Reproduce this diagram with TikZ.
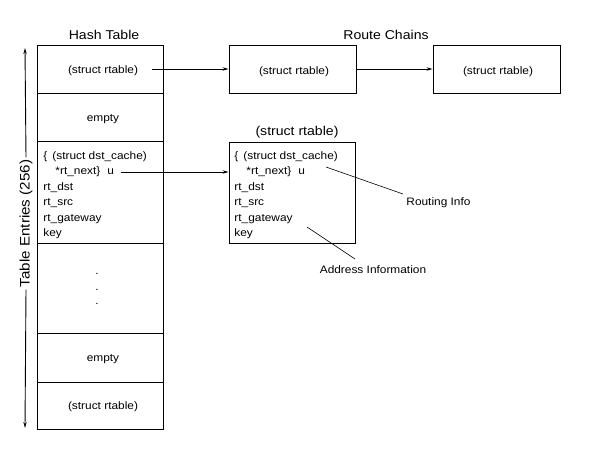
\documentclass[tikz,border=0pt]{standalone}
\usepackage{fontspec}
\setmainfont[FakeStretch=1.1]{Liberation Sans}
\usetikzlibrary{arrows.meta}
\begin{document}
\begin{tikzpicture}[x=1pt,y=-1pt,
  line width=0.9pt,
  cell/.style={draw,inner sep=0pt,minimum width=126pt},
  txt/.style={inner sep=0pt,font=\fontsize{10.8}{13}\selectfont},
  ln/.style={inner sep=0pt,anchor=base west,font=\fontsize{10.8}{13}\selectfont},
  ttl/.style={inner sep=0pt,font=\fontsize{12.8}{15}\selectfont},
  arr/.style={-{Stealth[length=6pt,width=3.4pt,inset=2pt]}},
  thin/.style={line width=0.6pt}]
\useasboundingbox (0,0) rectangle (599,448);

% Hash table
\node[cell,minimum height=48pt]  (r1) at (100,69) {};
\node[cell,minimum height=48pt]  (r2) at (100,117) {};
\node[cell,minimum height=102pt] (r3) at (100,192) {};
\node[cell,minimum height=90pt]  (r4) at (100,288) {};
\node[cell,minimum height=49pt]  (r5) at (100,357.5) {};
\node[cell,minimum height=47pt]  (r6) at (100,405.5) {};

\node[ttl] (ht) at (104,35) {Hash Table};
\node[txt] (r1t) at (103,71) {(struct rtable)};
\node[txt] (r2t) at (103,119) {empty};
\node[txt] (r5t) at (103,359) {empty};
\node[txt] (r6t) at (103,407) {(struct rtable)};
\node[txt,anchor=base] (d1) at (97,274) {.};
\node[txt,anchor=base] (d2) at (97,290) {.};
\node[txt,anchor=base] (d3) at (97,304) {.};

\node[ln] (h1) at (43,159) {\{\hspace{5pt}(struct dst\_cache)};
\node[ln] (h2) at (55,174.5) {*rt\_next\}\hspace{7pt}u};
\node[ln] (h3) at (43,190) {rt\_dst};
\node[ln] (h4) at (43,205.5) {rt\_src};
\node[ln] (h5) at (43,221) {rt\_gateway};
\node[ln] (h6) at (43,236.5) {key};

% vertical label with arrows
\node[inner sep=2pt,rotate=90,font=\fontsize{13.8}{16}\selectfont] (te) at (26,223.5) {Table Entries (256)};
\coordinate (tetop) at (25,48);
\coordinate (tebot) at (25,428);
\draw[arr] (te.east) -- (tetop);
\draw[arr] (te.west) -- (tebot);

% Route chains
\node[ttl] (rc) at (386,35) {Route Chains};
\node[cell,minimum width=127pt,minimum height=48pt] (c1) at (292.5,69) {};
\node[cell,minimum width=127pt,minimum height=48pt] (c2) at (496.5,69) {};
\node[txt] (c1t) at (294,72) {(struct rtable)};
\node[txt] (c2t) at (498,72) {(struct rtable)};

% middle struct
\node[ttl] (mt) at (297,132) {(struct rtable)};
\node[cell,minimum width=126pt,minimum height=101pt] (m) at (292,192.5) {};
\node[ln] (m1) at (234,159) {\{\hspace{5pt}(struct dst\_cache)};
\node[ln] (m2) at (246,174.5) {*rt\_next\}\hspace{7pt}u};
\node[ln] (m3) at (234,190) {rt\_dst};
\node[ln] (m4) at (234,205.5) {rt\_src};
\node[ln] (m5) at (234,221) {rt\_gateway};
\node[ln] (m6) at (234,236.5) {key};

% arrows
\coordinate (a1) at (152,69);
\draw[arr] (a1) -- (c1.west);
\draw[arr] (c1.east) -- (c2.west);
\coordinate (a2) at (121,172);
\draw[arr] (a2) -- (m.west |- a2);

% annotations
\node[txt,anchor=west] (ri) at (406,203) {Routing Info};
\node[txt] (ai) at (373,270) {Address Information};
\coordinate (rs) at (326,167);
\coordinate (re) at (403,194);
\coordinate (as) at (307,227);
\coordinate (ae) at (355,259);
\draw[thin] (rs) -- (re);
\draw[thin] (as) -- (ae);
\end{tikzpicture}
\end{document}
